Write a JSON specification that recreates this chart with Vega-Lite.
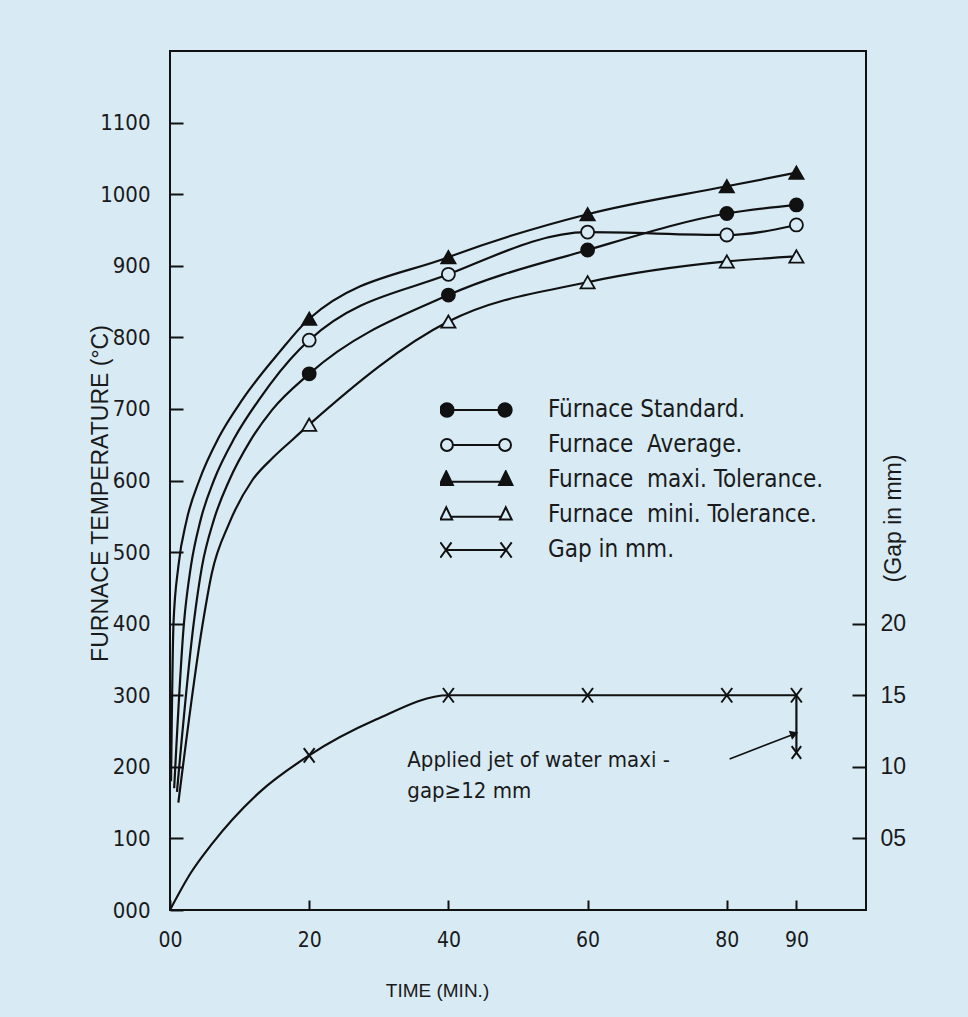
{
  "$schema": "https://vega.github.io/schema/vega-lite/v6.json",
  "width": 696,
  "height": 859,
  "autosize": "none",
  "padding": {"left": 170, "top": 51, "right": 102, "bottom": 107},
  "background": "#d8ebf5",
  "config": {
    "view": {"stroke": "#111", "strokeWidth": 2},
    "axis": {"labelColor": "#1a1a1a", "titleColor": "#1a1a1a", "tickColor": "#111", "tickWidth": 2, "grid": false, "domain": false, "titleFontWeight": "normal", "labelFlush": false},
    "legend": {
      "orient": "none", "legendX": 270, "legendY": 349, "padding": 0, "direction": "vertical",
      "symbolSize": 4900, "symbolStrokeWidth": 2, "symbolStrokeColor": "#111", "clipHeight": 20, "rowPadding": 11,
      "labelFont": "DejaVu Sans Condensed", "labelFontSize": 24, "labelColor": "#1a1a1a",
      "labelOffset": 36, "labelLimit": 400, "labelBaseline": "middle"
    }
  },
  "datasets": {
    "temp": [
      {"t": 0.15, "T": 180, "s": "Furnace\u00a0\u00a0maxi. Tolerance.", "m": 0},
      {"t": 0.5, "T": 400, "s": "Furnace\u00a0\u00a0maxi. Tolerance.", "m": 0},
      {"t": 1.2, "T": 480, "s": "Furnace\u00a0\u00a0maxi. Tolerance.", "m": 0},
      {"t": 2.4, "T": 545, "s": "Furnace\u00a0\u00a0maxi. Tolerance.", "m": 0},
      {"t": 4.2, "T": 600, "s": "Furnace\u00a0\u00a0maxi. Tolerance.", "m": 0},
      {"t": 7.0, "T": 660, "s": "Furnace\u00a0\u00a0maxi. Tolerance.", "m": 0},
      {"t": 10.4, "T": 713, "s": "Furnace\u00a0\u00a0maxi. Tolerance.", "m": 0},
      {"t": 15.7, "T": 779, "s": "Furnace\u00a0\u00a0maxi. Tolerance.", "m": 0},
      {"t": 20, "T": 826, "s": "Furnace\u00a0\u00a0maxi. Tolerance.", "m": 1},
      {"t": 40, "T": 912, "s": "Furnace\u00a0\u00a0maxi. Tolerance.", "m": 1},
      {"t": 60, "T": 972, "s": "Furnace\u00a0\u00a0maxi. Tolerance.", "m": 1},
      {"t": 80, "T": 1011, "s": "Furnace\u00a0\u00a0maxi. Tolerance.", "m": 1},
      {"t": 90, "T": 1030, "s": "Furnace\u00a0\u00a0maxi. Tolerance.", "m": 1},
      {"t": 0.6, "T": 170, "s": "Furnace\u00a0\u00a0Average.", "m": 0},
      {"t": 2.0, "T": 400, "s": "Furnace\u00a0\u00a0Average.", "m": 0},
      {"t": 3.0, "T": 480, "s": "Furnace\u00a0\u00a0Average.", "m": 0},
      {"t": 4.4, "T": 545, "s": "Furnace\u00a0\u00a0Average.", "m": 0},
      {"t": 6.3, "T": 600, "s": "Furnace\u00a0\u00a0Average.", "m": 0},
      {"t": 9.3, "T": 660, "s": "Furnace\u00a0\u00a0Average.", "m": 0},
      {"t": 12.8, "T": 713, "s": "Furnace\u00a0\u00a0Average.", "m": 0},
      {"t": 18.6, "T": 783, "s": "Furnace\u00a0\u00a0Average.", "m": 0},
      {"t": 20, "T": 796, "s": "Furnace\u00a0\u00a0Average.", "m": 1},
      {"t": 40, "T": 888, "s": "Furnace\u00a0\u00a0Average.", "m": 1},
      {"t": 60, "T": 947, "s": "Furnace\u00a0\u00a0Average.", "m": 1},
      {"t": 80, "T": 943, "s": "Furnace\u00a0\u00a0Average.", "m": 1},
      {"t": 90, "T": 957, "s": "Furnace\u00a0\u00a0Average.", "m": 1},
      {"t": 1.0, "T": 165, "s": "Fürnace Standard.", "m": 0},
      {"t": 3.4, "T": 400, "s": "Fürnace Standard.", "m": 0},
      {"t": 4.6, "T": 480, "s": "Fürnace Standard.", "m": 0},
      {"t": 6.3, "T": 545, "s": "Fürnace Standard.", "m": 0},
      {"t": 8.5, "T": 600, "s": "Fürnace Standard.", "m": 0},
      {"t": 11.5, "T": 655, "s": "Fürnace Standard.", "m": 0},
      {"t": 14.7, "T": 699, "s": "Fürnace Standard.", "m": 0},
      {"t": 20, "T": 749, "s": "Fürnace Standard.", "m": 1},
      {"t": 40, "T": 859, "s": "Fürnace Standard.", "m": 1},
      {"t": 60, "T": 922, "s": "Fürnace Standard.", "m": 1},
      {"t": 80, "T": 973, "s": "Fürnace Standard.", "m": 1},
      {"t": 90, "T": 985, "s": "Fürnace Standard.", "m": 1},
      {"t": 1.2, "T": 150, "s": "Furnace\u00a0\u00a0mini. Tolerance.", "m": 0},
      {"t": 4.7, "T": 400, "s": "Furnace\u00a0\u00a0mini. Tolerance.", "m": 0},
      {"t": 6.0, "T": 470, "s": "Furnace\u00a0\u00a0mini. Tolerance.", "m": 0},
      {"t": 8.5, "T": 540, "s": "Furnace\u00a0\u00a0mini. Tolerance.", "m": 0},
      {"t": 11.8, "T": 600, "s": "Furnace\u00a0\u00a0mini. Tolerance.", "m": 0},
      {"t": 14.8, "T": 632, "s": "Furnace\u00a0\u00a0mini. Tolerance.", "m": 0},
      {"t": 17.6, "T": 657, "s": "Furnace\u00a0\u00a0mini. Tolerance.", "m": 0},
      {"t": 20, "T": 678, "s": "Furnace\u00a0\u00a0mini. Tolerance.", "m": 1},
      {"t": 40, "T": 822, "s": "Furnace\u00a0\u00a0mini. Tolerance.", "m": 1},
      {"t": 60, "T": 877, "s": "Furnace\u00a0\u00a0mini. Tolerance.", "m": 1},
      {"t": 80, "T": 906, "s": "Furnace\u00a0\u00a0mini. Tolerance.", "m": 1},
      {"t": 90, "T": 913, "s": "Furnace\u00a0\u00a0mini. Tolerance.", "m": 1}
    ],
    "gap": [
      {"t": 0, "g": 0, "s": "Gap in mm.", "m": 0},
      {"t": 3, "g": 2.6, "s": "Gap in mm.", "m": 0},
      {"t": 6, "g": 4.6, "s": "Gap in mm.", "m": 0},
      {"t": 12.8, "g": 8.2, "s": "Gap in mm.", "m": 0},
      {"t": 20, "g": 10.8, "s": "Gap in mm.", "m": 1},
      {"t": 29.6, "g": 13.3, "s": "Gap in mm.", "m": 0},
      {"t": 40, "g": 15, "s": "Gap in mm.", "m": 1},
      {"t": 60, "g": 15, "s": "Gap in mm.", "m": 1},
      {"t": 80, "g": 15, "s": "Gap in mm.", "m": 1},
      {"t": 90, "g": 15, "s": "Gap in mm.", "m": 1}
    ],
    "gapEnd": [
      {"t": 90, "g": 11, "g0": 15, "s": "Gap in mm."}
    ],
    "arrow": [
      {"t": 80.4, "g": 10.55, "head": 0},
      {"t": 89.7, "g": 12.3, "head": 1}
    ],
    "notes": [
      {"t": 34.1, "g": 10.5, "label": "Applied jet of water maxi -"},
      {"t": 34.1, "g": 8.3, "label": "gap≥12 mm"}
    ]
  },
  "layer": [
    {
      "data": {"name": "temp"},
      "encoding": {
        "x": {
          "field": "t", "type": "quantitative",
          "scale": {"domain": [0, 100], "nice": false, "zero": false},
          "axis": {
            "values": [0, 20, 40, 60, 80, 90],
            "labelExpr": "datum.value == 0 ? '00' : datum.label",
            "offset": -10, "tickSize": 10, "labelPadding": 19,
            "labelFont": "DejaVu Sans Condensed", "labelFontSize": 21,
            "title": "TIME (MIN.)", "titleFont": "Liberation Sans", "titleFontSize": 19,
            "titleX": 267, "titleY": 90, "titleAlign": "center", "titleBaseline": "middle"
          }
        },
        "y": {
          "field": "T", "type": "quantitative",
          "scale": {"domain": [0, 1200], "nice": false, "zero": false},
          "axis": {
            "values": [0, 100, 200, 300, 400, 500, 600, 700, 800, 900, 1000, 1100],
            "format": "d",
            "labelExpr": "datum.value == 0 ? '000' : datum.label",
            "offset": -13, "tickSize": 13, "labelPadding": 20,
            "labelFont": "DejaVu Sans Condensed", "labelFontSize": 22,
            "title": "FURNACE TEMPERATURE (°C)", "titleFont": "Liberation Sans", "titleFontSize": 23,
            "titleAngle": 270, "titleX": -83, "titleY": 442, "titleAlign": "center", "titleBaseline": "middle"
          }
        }
      },
      "layer": [
        {
          "mark": {"type": "line", "interpolate": "monotone", "color": "#111", "strokeWidth": 2.2},
          "encoding": {"detail": {"field": "s"}}
        },
        {
          "transform": [{"filter": "datum.m == 1 && indexof(datum.s,'Standard') >= 0"}],
          "mark": {"type": "point", "shape": "circle", "filled": true, "fill": "#111", "stroke": "#111", "strokeWidth": 1.8, "size": 170, "opacity": 1}
        },
        {
          "transform": [{"filter": "datum.m == 1 && indexof(datum.s,'Average') >= 0"}],
          "mark": {"type": "point", "shape": "circle", "filled": true, "fill": "#d8ebf5", "stroke": "#111", "strokeWidth": 1.8, "size": 170, "opacity": 1}
        },
        {
          "transform": [{"filter": "datum.m == 1 && indexof(datum.s,'maxi') >= 0"}],
          "mark": {"type": "point", "shape": "triangle-up", "filled": true, "fill": "#111", "stroke": "#111", "strokeWidth": 1.8, "size": 200, "opacity": 1}
        },
        {
          "transform": [{"filter": "datum.m == 1 && indexof(datum.s,'mini') >= 0"}],
          "mark": {"type": "point", "shape": "triangle-up", "filled": true, "fill": "#d8ebf5", "stroke": "#111", "strokeWidth": 1.8, "size": 200, "opacity": 1}
        },
        {
          "transform": [{"filter": "false"}],
          "mark": {"type": "point", "filled": true, "strokeWidth": 2, "size": 4900, "opacity": 1},
          "encoding": {
            "shape": {
              "field": "s", "type": "nominal",
              "scale": {
                "domain": ["Fürnace Standard.", "Furnace\u00a0\u00a0Average.", "Furnace\u00a0\u00a0maxi. Tolerance.", "Furnace\u00a0\u00a0mini. Tolerance.", "Gap in mm."],
                "range": [
                  "M-0.64,0L0.64,0M-1.02,0a0.19,0.19 0 1,0 0.38,0a0.19,0.19 0 1,0 -0.38,0M0.64,0a0.19,0.19 0 1,0 0.38,0a0.19,0.19 0 1,0 -0.38,0",
                  "M-0.66,0L0.66,0M-1,0a0.17,0.17 0 1,0 0.34,0a0.17,0.17 0 1,0 -0.34,0M0.66,0a0.17,0.17 0 1,0 0.34,0a0.17,0.17 0 1,0 -0.34,0",
                  "M-0.7,0.05L0.7,0.05M-1.04,0.14L-0.85,-0.25L-0.66,0.14ZM0.66,0.14L0.85,-0.25L1.04,0.14Z",
                  "M-0.7,0.05L0.7,0.05M-1.02,0.13L-0.85,-0.22L-0.68,0.13ZM0.68,0.13L0.85,-0.22L1.02,0.13Z",
                  "M-1.02,-0.22L-0.7,0.22M-1.02,0.22L-0.7,-0.22M-0.86,0L0.86,0M0.7,-0.22L1.02,0.22M0.7,0.22L1.02,-0.22"
                ]
              },
              "legend": {"title": null}
            },
            "fill": {
              "field": "s", "type": "nominal",
              "scale": {
                "domain": ["Fürnace Standard.", "Furnace\u00a0\u00a0Average.", "Furnace\u00a0\u00a0maxi. Tolerance.", "Furnace\u00a0\u00a0mini. Tolerance.", "Gap in mm."],
                "range": ["#111", "transparent", "#111", "transparent", "transparent"]
              },
              "legend": {"title": null}
            },
            "stroke": {
              "field": "s", "type": "nominal",
              "scale": {
                "domain": ["Fürnace Standard.", "Furnace\u00a0\u00a0Average.", "Furnace\u00a0\u00a0maxi. Tolerance.", "Furnace\u00a0\u00a0mini. Tolerance.", "Gap in mm."],
                "range": ["#111", "#111", "#111", "#111", "#111"]
              },
              "legend": {"title": null}
            }
          }
        }
      ]
    },
    {
      "encoding": {
        "x": {"field": "t", "type": "quantitative", "scale": {"domain": [0, 100], "nice": false, "zero": false}},
        "y": {
          "field": "g", "type": "quantitative",
          "scale": {"domain": [0, 60], "nice": false, "zero": false},
          "axis": {
            "orient": "right",
            "values": [5, 10, 15, 20],
            "labelExpr": "datum.value == 5 ? '05' : datum.label",
            "offset": -14, "tickSize": 14, "labelPadding": 14,
            "labelFont": "Liberation Sans", "labelFontSize": 23,
            "title": "(Gap in mm)", "titleFont": "Liberation Sans", "titleFontSize": 23,
            "titleAngle": 270, "titleX": 41, "titleY": 467, "titleAlign": "center", "titleBaseline": "middle"
          }
        }
      },
      "layer": [
        {
          "data": {"name": "gap"},
          "mark": {"type": "line", "interpolate": "monotone", "color": "#111", "strokeWidth": 2.2}
        },
        {
          "data": {"name": "gapEnd"},
          "mark": {"type": "rule", "color": "#111", "strokeWidth": 2.2},
          "encoding": {"y": {"field": "g0", "type": "quantitative"}, "y2": {"field": "g"}}
        },
        {
          "data": {"name": "gap"},
          "transform": [{"filter": "datum.m == 1"}],
          "mark": {"type": "point", "shape": "M-0.75,-1L0.75,1M-0.75,1L0.75,-1", "filled": false, "stroke": "#111", "strokeWidth": 2, "size": 210, "opacity": 1}
        },
        {
          "data": {"name": "gapEnd"},
          "mark": {"type": "point", "shape": "M-0.75,-1L0.75,1M-0.75,1L0.75,-1", "filled": false, "stroke": "#111", "strokeWidth": 2, "size": 160, "opacity": 1}
        },
        {
          "data": {"name": "arrow"},
          "mark": {"type": "line", "color": "#111", "strokeWidth": 1.6}
        },
        {
          "data": {"name": "arrow"},
          "transform": [{"filter": "datum.head == 1"}],
          "mark": {"type": "point", "shape": "triangle-right", "filled": true, "color": "#111", "size": 90, "angle": -20, "opacity": 1}
        },
        {
          "data": {"name": "notes"},
          "mark": {"type": "text", "align": "left", "baseline": "middle", "font": "DejaVu Sans Condensed", "fontSize": 22, "color": "#1a1a1a"},
          "encoding": {"text": {"field": "label"}}
        }
      ]
    }
  ],
  "resolve": {"scale": {"y": "independent"}}
}
